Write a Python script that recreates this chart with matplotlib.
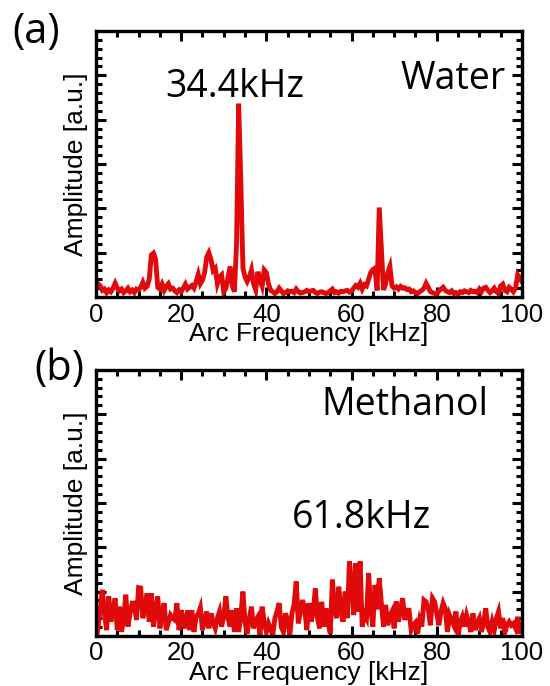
import numpy as np
import matplotlib

matplotlib.use("Agg")
import matplotlib.pyplot as plt
from matplotlib.ticker import MultipleLocator

# amplitude spectra, sampled every 0.5 kHz from 0 to 100 kHz
water_amp = [
    0.35, 0.30, 0.25, 0.15, 0.18, 0.10, 0.16, 0.12, 0.20, 0.31,
    0.20, 0.14, 0.18, 0.10, 0.14, 0.20, 0.12, 0.16, 0.10, 0.18,
    0.16, 0.22, 0.33, 0.20, 0.24, 0.40, 0.95, 0.99, 0.85, 0.22,
    0.18, 0.29, 0.15, 0.24, 0.30, 0.18, 0.20, 0.14, 0.10, 0.16,
    0.12, 0.20, 0.29, 0.18, 0.22, 0.26, 0.20, 0.34, 0.51, 0.30,
    0.38, 0.55, 0.90, 1.00, 0.85, 0.60, 0.65, 0.30, 0.45, 0.50,
    0.12, 0.20, 0.45, 0.69, 0.25, 0.12, 1.20, 4.36, 2.60, 0.65,
    0.45, 0.35, 0.45, 0.61, 0.30, 0.16, 0.57, 0.40, 0.25, 0.61,
    0.55, 0.30, 0.15, 0.12, 0.08, 0.12, 0.20, 0.14, 0.08, 0.10,
    0.14, 0.12, 0.13, 0.10, 0.18, 0.12, 0.09, 0.10, 0.12, 0.15,
    0.12, 0.14, 0.15, 0.10, 0.08, 0.11, 0.12, 0.10, 0.08, 0.10,
    0.14, 0.18, 0.10, 0.12, 0.09, 0.13, 0.12, 0.14, 0.15, 0.11,
    0.13, 0.20, 0.26, 0.22, 0.31, 0.18, 0.28, 0.25, 0.40, 0.55,
    0.62, 0.65, 0.15, 2.02, 1.10, 0.16, 0.30, 0.55, 0.69, 0.25,
    0.20, 0.23, 0.18, 0.24, 0.20, 0.21, 0.17, 0.18, 0.12, 0.14,
    0.10, 0.08, 0.12, 0.15, 0.20, 0.31, 0.22, 0.12, 0.10, 0.08,
    0.06, 0.14, 0.18, 0.22, 0.15, 0.12, 0.10, 0.14, 0.08, 0.10,
    0.07, 0.12, 0.10, 0.14, 0.12, 0.10, 0.15, 0.12, 0.13, 0.10,
    0.18, 0.12, 0.20, 0.22, 0.15, 0.10, 0.14, 0.20, 0.12, 0.08,
    0.25, 0.29, 0.15, 0.12, 0.22, 0.18, 0.12, 0.20, 0.50, 0.42,
    0.35,
]

methanol_amp = [
    0.35, 0.21, 0.60, 1.04, 0.50, 0.13, 0.89, 0.32, 0.60, 0.85,
    0.13, 0.66, 0.09, 0.40, 0.93, 0.21, 0.50, 0.74, 0.74, 0.36,
    1.09, 1.08, 0.40, 0.60, 0.96, 0.32, 0.96, 0.21, 0.60, 0.89,
    0.17, 0.50, 0.74, 0.13, 0.30, 0.47, 0.40, 0.36, 0.74, 0.13,
    0.58, 0.35, 0.17, 0.58, 0.13, 0.58, 0.09, 0.43, 0.50, 0.64,
    0.13, 0.35, 0.55, 0.17, 0.51, 0.30, 0.17, 0.40, 0.55, 0.21,
    0.45, 0.89, 0.40, 0.21, 0.58, 0.09, 0.62, 0.09, 0.45, 1.00,
    0.30, 0.05, 0.40, 0.66, 0.17, 0.35, 0.43, 0.02, 0.66, 0.30,
    0.09, 0.28, 0.15, 0.02, 0.40, 0.55, 0.74, 0.20, 0.09, 0.51,
    0.35, 0.02, 0.51, 0.70, 1.23, 0.28, 0.55, 0.81, 0.60, 0.13,
    0.74, 0.32, 0.55, 1.07, 0.40, 0.17, 0.77, 0.21, 0.62, 0.30,
    0.05, 1.27, 0.60, 0.40, 1.11, 0.60, 0.32, 1.00, 0.40, 1.68,
    1.20, 0.47, 1.64, 0.55, 1.68, 0.21, 0.50, 0.40, 1.42, 0.60,
    0.21, 1.15, 0.60, 1.30, 0.74, 0.21, 0.70, 0.24, 0.45, 0.55,
    0.17, 0.78, 0.32, 0.60, 0.85, 0.36, 0.58, 0.58, 0.13, 0.24,
    0.30, 0.05, 0.36, 0.21, 0.81, 0.77, 0.60, 0.24, 0.85, 0.77,
    0.50, 0.24, 0.55, 0.74, 0.62, 0.09, 0.47, 0.35, 0.24, 0.55,
    0.00, 0.30, 0.43, 0.21, 0.47, 0.30, 0.09, 0.51, 0.13, 0.30,
    0.40, 0.09, 0.30, 0.62, 0.20, 0.09, 0.32, 0.13, 0.40, 0.55,
    0.17, 0.40, 0.09, 0.25, 0.32, 0.24, 0.28, 0.17, 0.43, 0.05,
    0.24,
]

panel_tags = ["(a)", "(b)"]
liquids = ["Water", "Methanol"]
peak_labels = ["34.4kHz", "61.8kHz"]
x_ticks = [0, 20, 40, 60, 80, 100]

RED = "#e00a0a"
ANNOT_FONT = ["Open Sans", "DejaVu Sans"]
AXIS_FONT = ["Liberation Sans", "DejaVu Sans"]

fig = plt.figure(figsize=(5.5, 6.86), dpi=100)
ax_a = fig.add_axes([0.1745, 0.567, 0.7745, 0.3878])
ax_b = fig.add_axes([0.1745, 0.073, 0.7745, 0.3878])


def style_axis(ax):
    ax.set_xlim(0, 100)
    ax.set_ylim(0, 6)
    ax.xaxis.set_major_locator(MultipleLocator(20))
    ax.xaxis.set_minor_locator(MultipleLocator(5))
    ax.yaxis.set_major_locator(MultipleLocator(1))
    ax.yaxis.set_minor_locator(MultipleLocator(0.2))
    ax.set_xticks(x_ticks)
    ax.set_xticklabels([str(t) for t in x_ticks], family=AXIS_FONT, fontsize=18.5)
    ax.set_yticklabels([])
    ax.tick_params(which="both", direction="in", top=True, right=True, width=2.2, pad=4)
    ax.tick_params(which="major", length=7)
    ax.tick_params(which="minor", length=4)
    for spine in ax.spines.values():
        spine.set_linewidth(2.4)
    ax.set_xlabel("Arc Frequency [kHz]", family=AXIS_FONT, fontsize=19, labelpad=-3)
    ax.set_ylabel("Amplitude [a.u.]", family=AXIS_FONT, fontsize=19, labelpad=2)


for ax, amp in ((ax_a, water_amp), (ax_b, methanol_amp)):
    freq = np.linspace(0, 100, len(amp))
    ax.plot(freq, amp, color=RED, lw=3.5, solid_joinstyle="miter", zorder=2)
    style_axis(ax)

ax_a.text(0.326, 0.752, peak_labels[0], transform=ax_a.transAxes, ha="center", va="baseline",
          family=ANNOT_FONT, fontsize=27)
ax_a.text(0.962, 0.782, liquids[0], transform=ax_a.transAxes, ha="right", va="baseline",
          family=ANNOT_FONT, fontsize=27)
ax_b.text(0.725, 0.831, liquids[1], transform=ax_b.transAxes, ha="center", va="baseline",
          family=ANNOT_FONT, fontsize=27)
ax_b.text(0.624, 0.406, peak_labels[1], transform=ax_b.transAxes, ha="center", va="baseline",
          family=ANNOT_FONT, fontsize=27)

fig.text(36 / 550, 1 - 43 / 686, panel_tags[0], ha="center", va="baseline", family=ANNOT_FONT, fontsize=30)
fig.text(59 / 550, 1 - 380 / 686, panel_tags[1], ha="center", va="baseline", family=ANNOT_FONT, fontsize=30)

fig.savefig("out.png", dpi=100, facecolor="white")
